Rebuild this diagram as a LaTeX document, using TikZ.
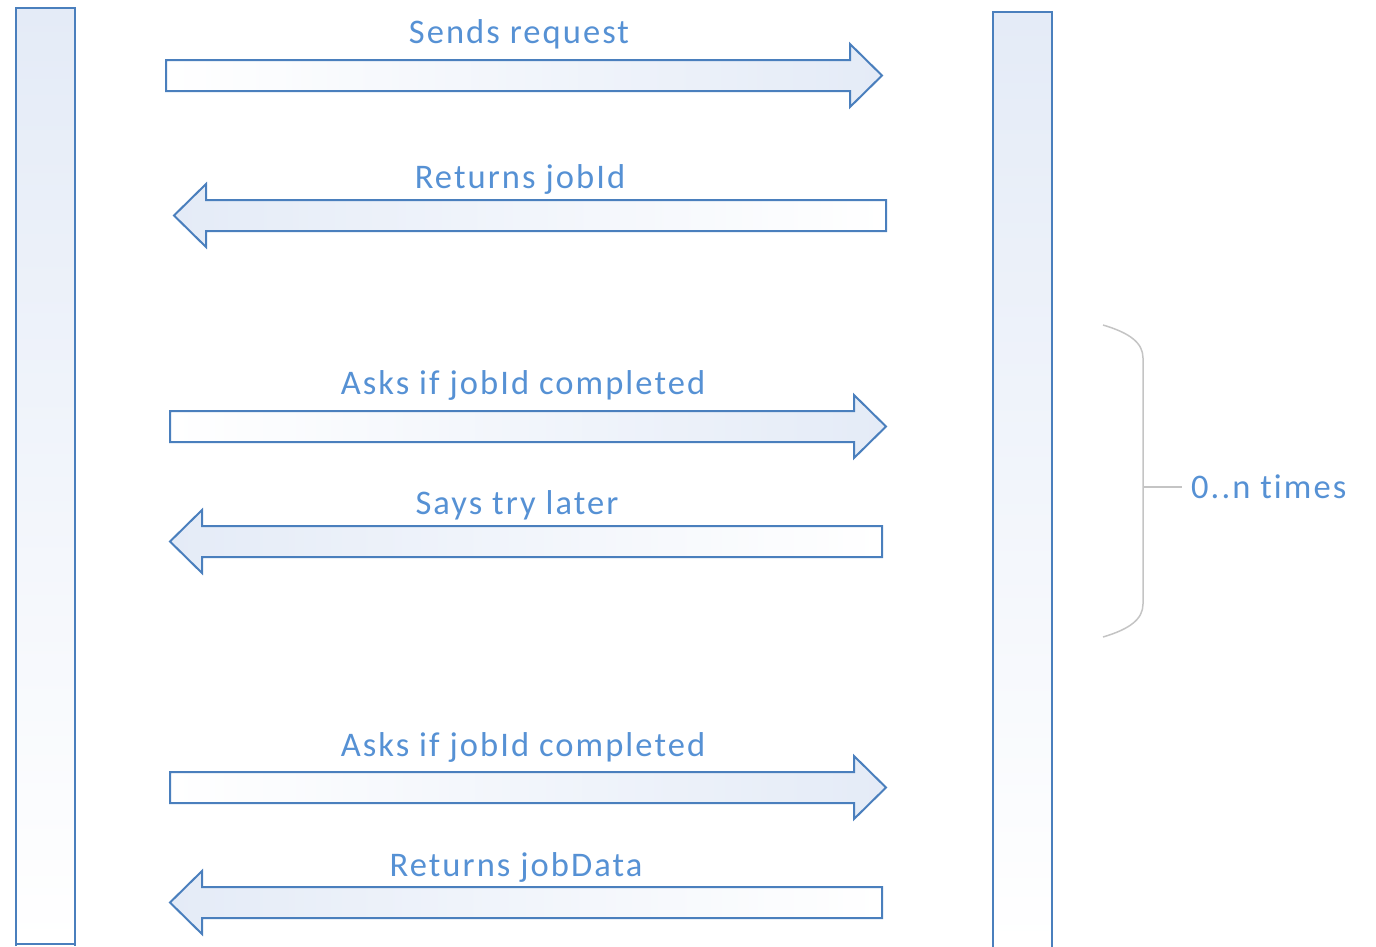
\documentclass[tikz,border=0pt]{standalone}
\usepackage{fontspec}
\setmainfont{Carlito}
\newfontfamily\msgfont[LetterSpace=6, Ligatures=NoCommon]{Carlito}
\definecolor{lineBlue}{RGB}{74,127,189}
\definecolor{textBlue}{RGB}{86,145,212}
\definecolor{shadeBlue}{RGB}{228,235,247}
\definecolor{braceGray}{RGB}{196,196,196}
\tikzstyle{lifeline}=[draw = lineBlue, line width = 2pt, top color = shadeBlue, bottom color = white]
\tikzstyle{msgRight}=[draw = lineBlue, line width = 2pt, left color = white, right color = shadeBlue]
\tikzstyle{msgLeft}=[draw = lineBlue, line width = 2pt, left color = shadeBlue, right color = white]
\tikzstyle{msgLabel}=[text = textBlue, font = \msgfont\fontsize{34.5}{40}\selectfont, inner sep = 0pt, anchor = base]
% block arrow: tail x, tip x, shaft top y (shaft 31, head 32 long, 16 over)
\newcommand{\toRight}[3]{\fill[msgRight] (#1,#3) -- (#2-32,#3) -- (#2-32,#3-16) -- (#2,#3+15.5)
  -- (#2-32,#3+47) -- (#2-32,#3+31) -- (#1,#3+31) -- cycle;}
\newcommand{\toLeft}[3]{\fill[msgLeft] (#1,#3) -- (#2+32,#3) -- (#2+32,#3-16) -- (#2,#3+15.5)
  -- (#2+32,#3+47) -- (#2+32,#3+31) -- (#1,#3+31) -- cycle;}

\begin{document}
\begin{tikzpicture}[x = 1pt, y = -1pt]
\useasboundingbox (0,0) rectangle (1376,946);
% lifelines
\filldraw[lifeline] (16,946) -- (16,8) -- (75,8) -- (75,946);
\draw[lineBlue, line width = 2pt] (16,944) -- (75,944);
\filldraw[lifeline] (993,948) -- (993,12) -- (1052,12) -- (1052,948);
% messages
\toRight{166}{882}{60}
\toLeft{886}{174}{200}
\toRight{170}{886}{411}
\toLeft{882}{170}{526}
\toRight{170}{886}{772}
\toLeft{882}{170}{887}
\node[msgLabel] (sends) at (519,43) {Sends request};
\node[msgLabel] (jobid) at (520,188) {Returns jobId};
\node[msgLabel] (askA) at (523,394) {Asks if jobId completed};
\node[msgLabel] (later) at (517,514) {Says try later};
\node[msgLabel] (askB) at (523,756) {Asks if jobId completed};
\node[msgLabel] (jobdata) at (516,876) {Returns jobData};
% repeat brace
\coordinate (braceTop) at (1103,325);
\coordinate (braceBot) at (1103,637);
\coordinate (braceMid) at (1143,487);
\node[msgLabel, anchor = west] (times) at (1191,487) {0..n times};
\draw[braceGray, line width = 1.5pt] (braceTop) .. controls (1130,333) and (1143,343) .. (1143,358)
  -- (1143,604) .. controls (1143,619) and (1130,629) .. (braceBot);
\draw[braceGray, line width = 1.5pt] (braceMid) -- (1182,487);
\end{tikzpicture}
\end{document}
